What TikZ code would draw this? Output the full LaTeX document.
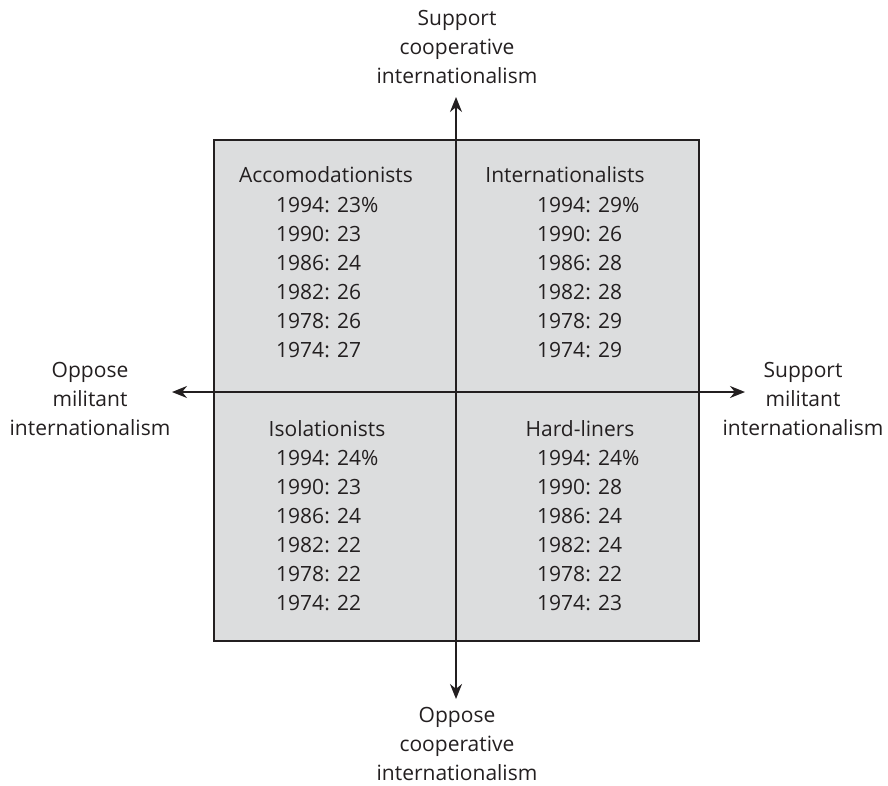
\documentclass[tikz,border=0pt]{standalone}
\usepackage{fontspec}
\setmainfont{Open Sans}
\definecolor{inkgray}{RGB}{35,31,32}
\definecolor{panelgray}{RGB}{220,221,222}
\usetikzlibrary{positioning,arrows.meta}

\begin{document}
\begin{tikzpicture}[
  x=1pt, y=-1pt,
  every node/.style={text=inkgray, font=\fontsize{21}{29}\selectfont, inner sep=0pt},
  panel/.style={draw=inkgray, line width=1.6pt, fill=panelgray, minimum width=485pt, minimum height=501pt},
  axislabel/.style={align=center},
  groupname/.style={anchor=center},
  shares/.style={align=left, anchor=north west},
  axis/.style={{Stealth[length=15pt, width=12pt]}-{Stealth[length=15pt, width=12pt]}, line width=1.8pt, inkgray}
]
\useasboundingbox (0,0) rectangle (888,785);
\node[panel] (box) at (456.5,390.5) {};

% axis ends
\coordinate (ntip) at (456,97);
\coordinate (stip) at (456,699);
\coordinate (wtip) at (172,392);
\coordinate (etip) at (745,392);
\draw[axis] (ntip) -- (stip);
\draw[axis] (wtip) -- (etip);

% axis labels
\node[axislabel] (ncap) at (457,47) {Support\\cooperative\\internationalism};
\node[axislabel] (scap) at (457,744) {Oppose\\cooperative\\internationalism};
\node[axislabel] (wcap) at (90,399) {Oppose\\militant\\internationalism};
\node[axislabel] (ecap) at (803,399) {Support\\militant\\internationalism};

% quadrants
\node[groupname] (acc) at (326,175) {Accomodationists};
\node[shares] (accn) at (276,197) {1994: 23\%\\1990: 23\\1986: 24\\1982: 26\\1978: 26\\1974: 27};

\node[groupname] (intl) at (565,175) {Internationalists};
\node[shares] (intln) at (537,197) {1994: 29\%\\1990: 26\\1986: 28\\1982: 28\\1978: 29\\1974: 29};

\node[groupname] (iso) at (327,429) {Isolationists};
\node[shares] (ison) at (276,450) {1994: 24\%\\1990: 23\\1986: 24\\1982: 22\\1978: 22\\1974: 22};

\node[groupname] (hard) at (580,429) {Hard-liners};
\node[shares] (hardn) at (537,450) {1994: 24\%\\1990: 28\\1986: 24\\1982: 24\\1978: 22\\1974: 23};
\end{tikzpicture}
\end{document}
